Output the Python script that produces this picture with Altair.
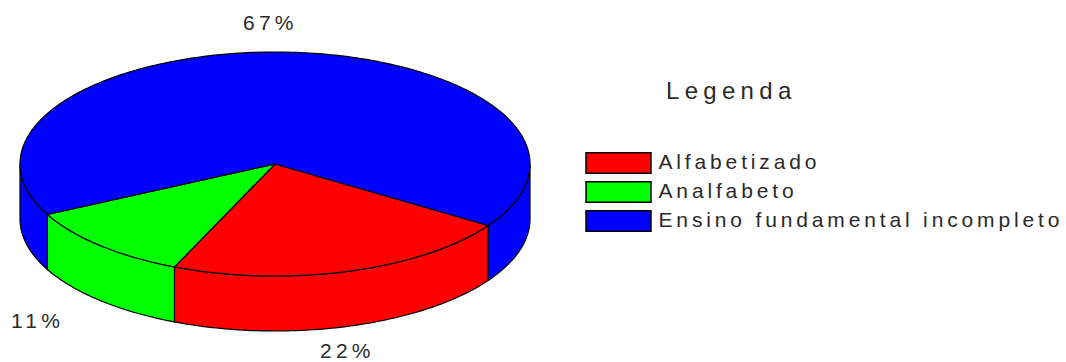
import math
import altair as alt

# Shares of each schooling level, in percent
categories = ["Alfabetizado", "Analfabeto", "Ensino fundamental incompleto"]
shares = [22.2, 11.1, 66.7]
colors = ["#ff0000", "#00ff00", "#0000ff"]
share_labels = ["22%", "11%", "67%"]

# Disc geometry of the tilted pie, in pixels
CX, CY, RX, RY, DEPTH = 275, 164, 255, 112, 55
START_DEG = 33.3

FONT = "Liberation Sans"
INK = "#2a2a2a"


def rim(a0, a1, dy=0.0):
    """Points along the disc edge between two angles in degrees."""
    n = max(2, int(abs(a1 - a0)) + 1)
    pts = []
    for i in range(n + 1):
        t = math.radians(a0 + (a1 - a0) * i / n)
        pts.append([CX + RX * math.cos(t), CY + RY * math.sin(t) + dy])
    return pts


def feature(cat, ring):
    return {
        "type": "Feature",
        "properties": {"categoria": cat},
        "geometry": {"type": "Polygon", "coordinates": [ring + [ring[0]]]},
    }


# Angular span of every slice, from the cumulative shares
spans = []
angle = START_DEG
for cat, share in zip(categories, shares):
    spans.append((cat, angle, angle + share * 3.6))
    angle += share * 3.6

# Side walls exist only on the near half of the disc (0 to 180 degrees)
walls, tops = [], []
for cat, a0, a1 in spans:
    for lo, hi in [(a0, a1), (a0 - 360, a1 - 360)]:
        lo, hi = max(lo, 0), min(hi, 180)
        if hi > lo:
            walls.append(feature(cat, rim(lo, hi) + rim(hi, lo, DEPTH)))
    tops.append(feature(cat, [[CX, CY]] + rim(a0, a1)))

features = walls + tops

pie = (
    alt.Chart(
        alt.InlineData(
            values={"type": "FeatureCollection", "features": features},
            format=alt.DataFormat(property="features", type="json"),
        )
    )
    .mark_geoshape(stroke="#000000", strokeWidth=1.2, strokeJoin="round")
    .encode(
        fill=alt.Fill(
            "properties.categoria:N",
            scale=alt.Scale(domain=categories, range=colors),
            legend=alt.Legend(
                title=None,
                orient="none",
                legendX=606.5,
                legendY=151,
                # Wide swatch drawn well past its nominal unit box, so rows stay tight
                symbolType="M-3,-0.95H3V0.95H-3Z",
                symbolSize=469,
                symbolStrokeColor="#000000",
                symbolStrokeWidth=1.5,
                symbolOpacity=1,
                rowPadding=1,
                labelOffset=28,
                labelFont=FONT,
                labelFontSize=21,
                labelColor=INK,
                labelLimit=470,
            ),
        )
    )
    .project(type="identity", scale=1, translate=[0, 0])
)


def caption(text, x, y, size=21):
    return (
        alt.Chart(alt.Data(values=[{"rotulo": text}]))
        .mark_text(font=FONT, fontSize=size, color=INK, align="left", baseline="middle")
        .encode(x=alt.value(x), y=alt.value(y), text="rotulo:N")
    )


layers = [
    pie,
    caption(share_labels[2], 243, 24),
    caption(share_labels[0], 320, 352),
    caption(share_labels[1], 11, 322),
    caption("Legenda", 666, 92, 24),
]

chart = (
    alt.layer(*layers)
    .properties(width=1066, height=362, padding=0, autosize=alt.AutoSizeParams(type="none"))
    .configure_view(stroke=None)
)

# The labels are widely tracked; the last layer is the legend heading
SPACING = (
    "svg text{letter-spacing:4.2px}"
    ".role-legend-label text{letter-spacing:3.85px}"
    ".layer_4_marks text{letter-spacing:5.3px}"
)

chart.save(
    "out.html",
    embed_options={"renderer": "svg", "actions": False, "defaultStyle": SPACING},
)
